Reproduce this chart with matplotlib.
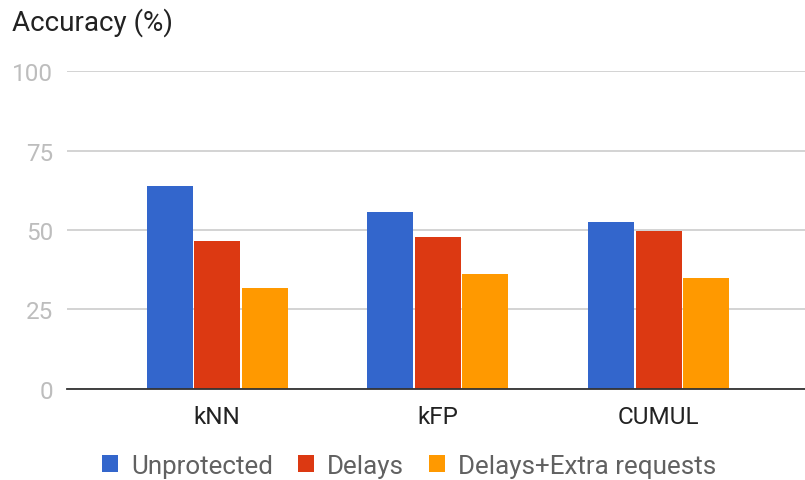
import numpy as np
import matplotlib.pyplot as plt
from matplotlib.patches import Patch

plt.rcParams['font.family'] = ['Roboto', 'DejaVu Sans']

# accuracy of each attack under the three settings
attacks = ['kNN', 'kFP', 'CUMUL']
series = ['Unprotected', 'Delays', 'Delays+Extra requests']
unprotected = [63.7, 55.6, 52.4]
delays = [46.6, 47.9, 49.7]
delays_extra = [31.8, 36.2, 34.8]
yticks = [0, 25, 50, 75, 100]

colors = ['#3366CC', '#DC3912', '#FF9900']

fig = plt.figure(figsize=(8.05, 4.81), dpi=100)
ax = fig.add_axes([0.0832, 0.190, 0.9168, 0.660])

x = np.arange(len(attacks))
pitch = 0.215
width = 0.208
for i, vals in enumerate([unprotected, delays, delays_extra]):
    ax.bar(x + (i - 1) * pitch, vals, width, color=colors[i], zorder=3)

ax.set_ylim(0, 100)
ax.set_xlim(-0.68, 2.663)
ax.set_yticks(yticks)
ax.set_yticklabels([str(t) for t in yticks])
ax.set_xticks(x)
ax.set_xticklabels(attacks)
ax.grid(axis='y', color='#CCCCCC', linewidth=1.2, zorder=0)
ax.tick_params(axis='y', length=0, pad=10, labelsize=17.5, labelcolor='#BDBDBD')
ax.tick_params(axis='x', length=0, pad=12, labelsize=17.5, labelcolor='#222222')
for side in ['top', 'right', 'left']:
    ax.spines[side].set_visible(False)
ax.spines['bottom'].set_color('#333333')
ax.spines['bottom'].set_linewidth(1.3)
ax.spines['bottom'].set_zorder(4)

fig.text(0.015, 0.952, 'Accuracy (%)', fontsize=20, color='#222222', va='center', ha='left')

handles = [Patch(facecolor=c, edgecolor='none') for c in colors]
fig.legend(handles, series, loc='center', bbox_to_anchor=(0.508, 0.029), ncol=3,
           frameon=False, fontsize=18.7, labelcolor='#616161',
           handlelength=0.62, handleheight=0.62, handletextpad=0.5,
           columnspacing=0.95, borderpad=0)

fig.savefig('out.png', dpi=100)
